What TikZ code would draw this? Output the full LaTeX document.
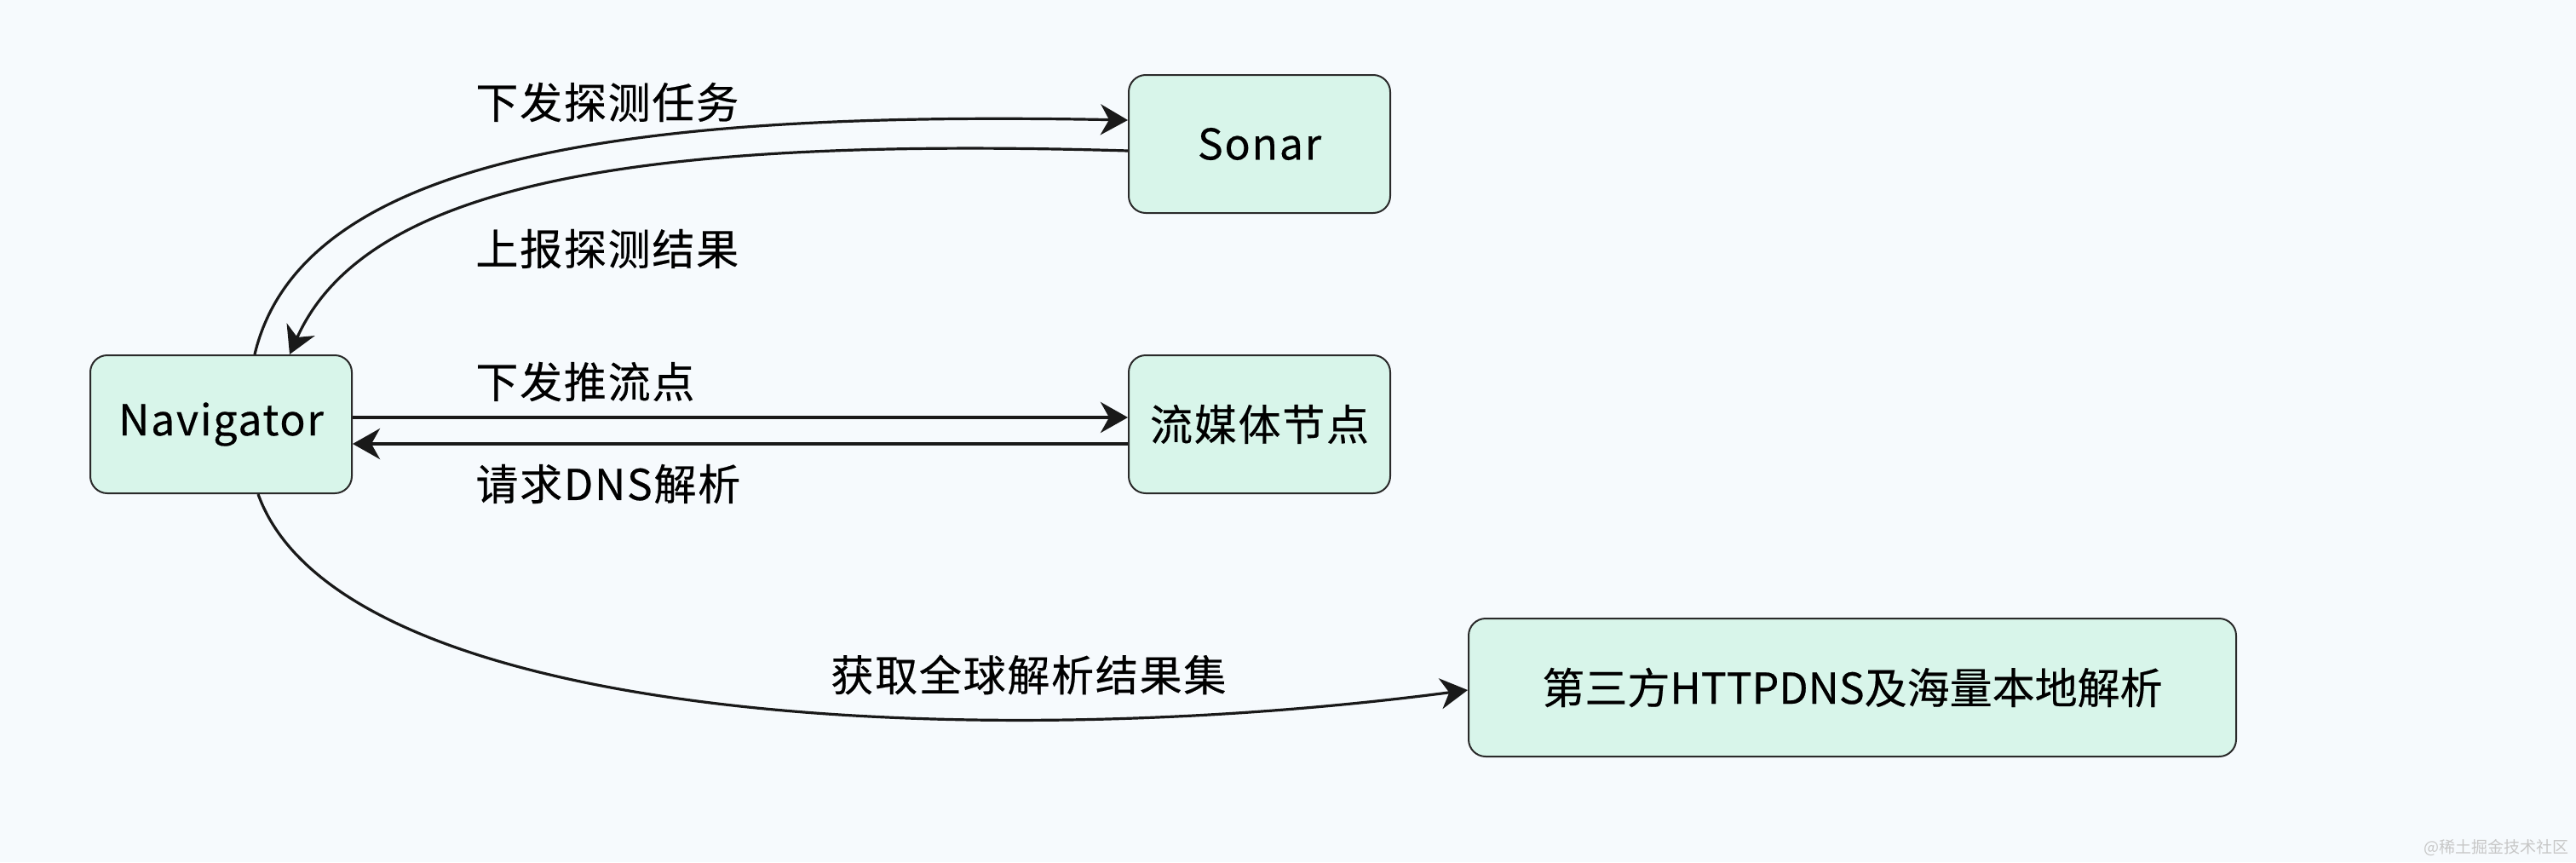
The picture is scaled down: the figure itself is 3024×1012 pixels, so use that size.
\documentclass[tikz,border=0pt]{standalone}
\usepackage{fontspec}
\newfontfamily\cjk[LetterSpace=3.5,FakeBold=0.4]{Noto Sans CJK SC}
\newfontfamily\cjkplain[FakeBold=0.4]{Noto Sans CJK SC}
\newfontfamily\cjkwm{Noto Sans CJK SC}
\usetikzlibrary{arrows.meta}
\definecolor{bgc}{HTML}{F6FAFD}
\definecolor{boxfill}{HTML}{D8F5EA}
\definecolor{boxline}{HTML}{2A2A2A}
\tikzset{
  box/.style={draw=boxline, line width=1pt, fill=boxfill, rounded corners=10pt,
    font=\cjk\fontsize{25}{30}\selectfont, inner sep=0pt, minimum height=81pt},
  lbl/.style={font=\cjk\fontsize{25}{30}\selectfont, anchor=west, inner sep=0pt},
  conn/.style={line width=1.6pt, draw=black!90,
    -{Stealth[length=16pt, width=18pt, inset=5pt]}},
  hconn/.style={conn, line width=2pt}
}
\begin{document}
\begin{tikzpicture}[x=0.5pt, y=-0.5pt]
\fill[bgc] (0,0) rectangle (3024,1012);
\useasboundingbox (0,0) rectangle (3024,1012);

\node[box, minimum width=153.5pt] (nav) at (259.5,498) {Navigator};
\node[box, minimum width=153.5pt] (sonar) at (1478.5,169) {Sonar};
\node[box, minimum width=153.5pt] (stream) at (1478.5,498) {流媒体节点};
\node[box, minimum width=450.5pt, font=\cjkplain\fontsize{25}{30}\selectfont] (third) at (2174.5,807) {第三方HTTPDNS及海量本地解析};

% curves between Navigator and Sonar
\draw[conn] ([xshift=19.75pt]nav.north) .. controls (355,180) and (750,130) .. ([yshift=14pt]sonar.west);
\draw[conn] ([yshift=-4pt]sonar.west) .. controls (750,160) and (430,215) .. ([xshift=40.25pt]nav.north);

% horizontal arrows
\draw[hconn] ([yshift=4pt]nav.east) -- ([yshift=4pt]stream.west);
\draw[hconn] ([yshift=-11.5pt]stream.west) -- ([yshift=-11.5pt]nav.east);

% lower curve
\draw[conn] ([xshift=21.75pt]nav.south) .. controls (400,850) and (1150,885) .. ([yshift=-1.5pt]third.west);

% labels
\node[lbl] (l1) at (558,120) {下发探测任务};
\node[lbl] (l2) at (558,292) {上报探测结果};
\node[lbl] (l3) at (558,448) {下发推流点};
\node[lbl] (l4) at (558,568) {请求DNS解析};
\node[lbl] (l5) at (975,792) {获取全球解析结果集};

% watermark
\node[font=\cjkwm\fontsize{9.5}{11}\selectfont, text=black!22, anchor=east, inner sep=0pt] (wm) at (3016,995) {@稀土掘金技术社区};
\end{tikzpicture}
\end{document}
